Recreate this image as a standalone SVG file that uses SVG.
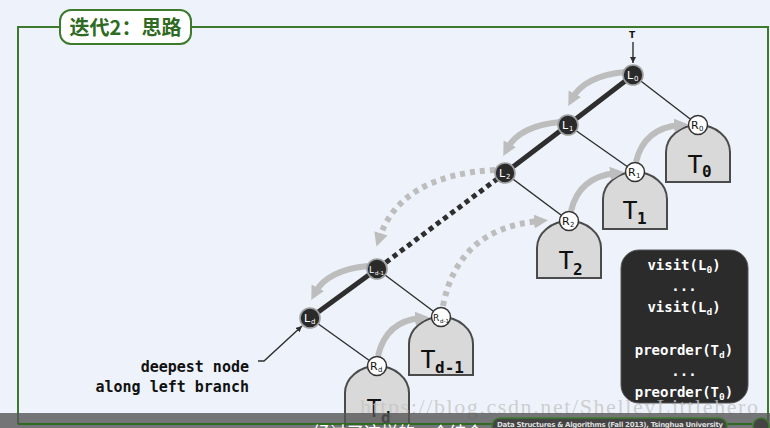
<svg xmlns="http://www.w3.org/2000/svg" width="770" height="428" viewBox="0 0 770 428">
<defs>
<style>
.tree path{fill:#d9d9d9;stroke:#4a4a4a;stroke-width:2}
.tree text{font-family:"DejaVu Sans Mono","Liberation Mono",monospace;fill:#111}
.tlab{font-size:25px}
.tsub{font-size:16px;font-weight:bold}
.lnode circle{fill:#2a2a2a;stroke:#a0a0a0;stroke-width:1.6}
.lnode text{fill:#fff;font-family:"DejaVu Sans","Liberation Sans",sans-serif}
.rnode circle{fill:#fff;stroke:#333;stroke-width:1.5}
.rnode text{fill:#111;font-family:"DejaVu Sans","Liberation Sans",sans-serif}
.nm{font-size:11px}
.sb{font-size:7px}
.nm2{font-size:9px}
.sb2{font-size:5.5px}
.thick{stroke:#2e2e2e;stroke-width:5;fill:none}
.thin{stroke:#2e2e2e;stroke-width:1.4;fill:none}
.garc{stroke:#bdbdbd;stroke-width:6;fill:none;marker-end:url(#gh)}
.gdot{stroke-dasharray:5 5}
.code{font-family:"DejaVu Sans Mono","Liberation Mono",monospace;font-weight:bold;font-size:14px;fill:#fff}
.csub{font-size:9.5px}
.note{font-family:"DejaVu Sans Mono","Liberation Mono",monospace;font-weight:bold;font-size:15px;fill:#111}
</style>
<marker id="gh" markerUnits="userSpaceOnUse" markerWidth="16" markerHeight="16" refX="6" refY="7" orient="auto">
<path d="M0,0 L14,7 L0,14 Z" fill="#bdbdbd"/>
</marker>
<marker id="bh" markerUnits="userSpaceOnUse" markerWidth="8" markerHeight="8" refX="6" refY="3" orient="auto">
<path d="M0,0 L6,3 L0,6 Z" fill="#2e2e2e"/>
</marker>
</defs>
<rect width="770" height="428" fill="#eef3fb"/>
<!-- frame -->
<path d="M60,27 H18 V424 M191,27 H768 V424" fill="none" stroke="#3d7a2e" stroke-width="2"/>
<g id="title">
<rect x="60" y="10" width="131" height="34" rx="11" fill="#fff" stroke="#3d7a2e" stroke-width="2"/>
<text x="125.5" y="35" text-anchor="middle" font-family="Noto Sans CJK SC,sans-serif" font-weight="bold" font-size="20" fill="#2f6a22">迭代2：思路</text>
</g>
<!-- subtrees -->
<g id="T0" class="tree"><path d="M666,182 V152 A32,27 0 0 1 730,152 V182 Z"/><text class="tlab" x="695" y="173" text-anchor="middle">T</text><text class="tsub" x="702" y="177">0</text></g>
<g id="T1" class="tree"><path d="M603,229 V199 A32,27 0 0 1 667,199 V229 Z"/><text class="tlab" x="630" y="219" text-anchor="middle">T</text><text class="tsub" x="637" y="224">1</text></g>
<g id="T2" class="tree"><path d="M537,278 V248 A32,27 0 0 1 601,248 V278 Z"/><text class="tlab" x="566" y="269" text-anchor="middle">T</text><text class="tsub" x="573" y="275">2</text></g>
<g id="Td-1" class="tree"><path d="M409,375 V344 A32,27 0 0 1 473,344 V375 Z"/><text class="tlab" x="428" y="368" text-anchor="middle">T</text><text class="tsub" x="435" y="373">d-1</text></g>
<g id="Td" class="tree"><path d="M345,440 V393 A32,27 0 0 1 409,393 V440 Z"/><text class="tlab" x="374" y="417" text-anchor="middle">T</text><text class="tsub" x="381" y="423">d</text></g>
<!-- connectors -->
<g id="connectors">
<path class="thin" d="M633,42 V63" marker-end="url(#bh)"/>
<path class="thick" d="M633,75 L568,125 L505,173"/>
<path class="thick" d="M505,173 L377,269" stroke-dasharray="5 4"/>
<path class="thick" d="M377,269 L310,318"/>
<path class="thin" d="M633,75 L698,125"/>
<path class="thin" d="M568,125 L635,172"/>
<path class="thin" d="M505,173 L569,221"/>
<path class="thin" d="M377,269 L441,317"/>
<path class="thin" d="M310,318 L377,366"/>
<path class="garc" d="M625,72 Q584,76 572,99"/>
<path class="garc" d="M560,122 Q519,126 507,149"/>
<path class="garc gdot" d="M495,170 Q400,175 379,239"/>
<path class="garc" d="M368,266 Q327,270 315,293"/>
<path class="garc" d="M378,356 Q386,321 421,318"/>
<path class="garc gdot" d="M443,306 Q458,228 540,221"/>
<path class="garc" d="M571,211 Q579,177 616,173"/>
<path class="garc" d="M636,162 Q644,128 680,125"/>
<path class="thin" d="M258,361 H264 L302,326" marker-end="url(#bh)"/>
</g>
<text x="632" y="38" text-anchor="middle" font-family="DejaVu Sans,sans-serif" font-weight="bold" font-size="9" fill="#111">T</text>
<!-- L nodes -->
<g id="L0" class="lnode"><circle cx="633" cy="75" r="10"/><text class="nm" x="627" y="79">L</text><text class="sb" x="634" y="81">0</text></g>
<g id="L1" class="lnode"><circle cx="568" cy="125" r="10"/><text class="nm" x="562" y="129">L</text><text class="sb" x="569" y="131">1</text></g>
<g id="L2" class="lnode"><circle cx="505" cy="173" r="10"/><text class="nm" x="499" y="177">L</text><text class="sb" x="506" y="179">2</text></g>
<g id="Ld-1" class="lnode"><circle cx="377" cy="269" r="10"/><text class="nm2" x="369" y="273">L</text><text class="sb2" x="375" y="275">d-1</text></g>
<g id="Ld" class="lnode"><circle cx="310" cy="318" r="10"/><text class="nm" x="304" y="322">L</text><text class="sb" x="311" y="324">d</text></g>
<!-- R nodes -->
<g id="R0" class="rnode"><circle cx="698" cy="125" r="9.5"/><text class="nm" x="691" y="129">R</text><text class="sb" x="699" y="131">0</text></g>
<g id="R1" class="rnode"><circle cx="635" cy="172" r="9.5"/><text class="nm" x="628" y="176">R</text><text class="sb" x="636" y="178">1</text></g>
<g id="R2" class="rnode"><circle cx="569" cy="221" r="9.5"/><text class="nm" x="562" y="225">R</text><text class="sb" x="570" y="227">2</text></g>
<g id="Rd-1" class="rnode"><circle cx="441" cy="317" r="9.5"/><text class="nm2" x="433" y="321">R</text><text class="sb2" x="440" y="323">d-1</text></g>
<g id="Rd" class="rnode"><circle cx="377" cy="366" r="9.5"/><text class="nm" x="370" y="370">R</text><text class="sb" x="378" y="372">d</text></g>
<!-- note -->
<g id="note">
<text class="note" x="249" y="372" text-anchor="end">deepest node</text>
<text class="note" x="249" y="392" text-anchor="end">along left branch</text>
</g>
<!-- code box -->
<g id="codebox">
<rect x="621" y="250" width="127" height="153" rx="18" fill="#2b2b2b" stroke="#555" stroke-width="1"/>
<text class="code" x="684" y="270" text-anchor="middle">visit(L<tspan class="csub" dy="3">0</tspan><tspan dy="-3">)</tspan></text>
<text class="code" x="684" y="291" text-anchor="middle">...</text>
<text class="code" x="684" y="312" text-anchor="middle">visit(L<tspan class="csub" dy="3">d</tspan><tspan dy="-3">)</tspan></text>
<text class="code" x="684" y="355" text-anchor="middle">preorder(T<tspan class="csub" dy="3">d</tspan><tspan dy="-3">)</tspan></text>
<text class="code" x="684" y="376" text-anchor="middle">...</text>
<text class="code" x="684" y="397" text-anchor="middle">preorder(T<tspan class="csub" dy="3">0</tspan><tspan dy="-3">)</tspan></text>
</g>
<!-- watermark -->
<text x="360" y="414" font-family="Liberation Serif,serif" font-size="22" fill="#c4c4c4" fill-opacity="0.8" textLength="398">https://blog.csdn.net/ShelleyLittlehero</text>
<!-- bottom bar -->
<rect x="0" y="413" width="770" height="15" fill="#555" fill-opacity="0.8"/>
<path d="M18,424 H492 M727,424 H752" stroke="#2f6a22" stroke-width="2" fill="none"/>
<g id="footer">
<rect x="492" y="418" width="235" height="16" rx="8" fill="#444" stroke="#3d7a2e" stroke-width="1.5"/>
<text x="497" y="426.5" font-family="DejaVu Sans,sans-serif" font-size="7" font-weight="bold" fill="#ddd" textLength="226">Data Structures &amp; Algorithms (Fall 2013), Tsinghua University</text>
<circle cx="761" cy="426" r="8" fill="#444" stroke="#3d7a2e" stroke-width="1.5"/>
</g>
<text x="313" y="439" font-family="Noto Sans CJK SC,sans-serif" font-size="17" fill="#fff">经过了这样的一个结合</text>
</svg>
